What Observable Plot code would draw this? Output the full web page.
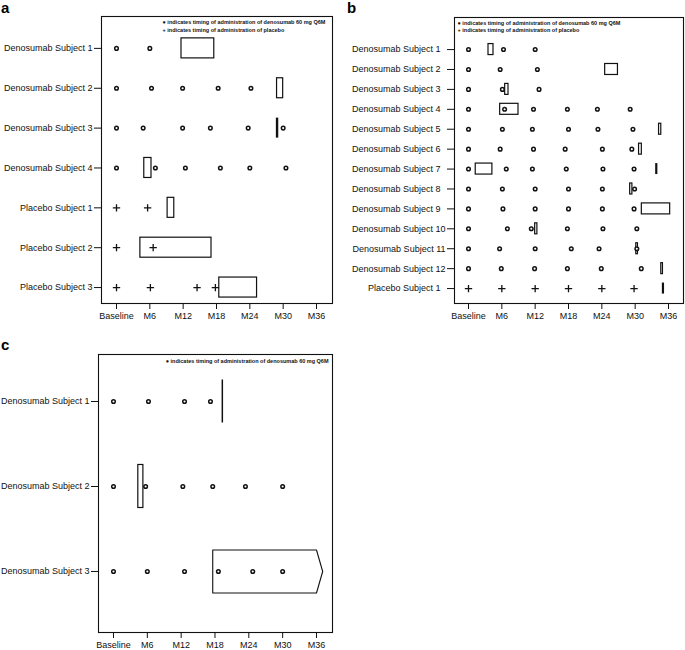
<!DOCTYPE html>
<html>
<head>
<meta charset="utf-8">
<script src="https://cdn.jsdelivr.net/npm/d3@7"></script>
<script src="https://cdn.jsdelivr.net/npm/@observablehq/plot@0.6"></script>
<style>
  html, body { margin: 0; padding: 0; background: #fff; }
  #wrap { position: relative; width: 685px; height: 650px; font-family: "Liberation Sans", Arial, sans-serif; }
  .pl { position: absolute; z-index: 1; }
  .letter { position: absolute; z-index: 5; font-size: 15px; font-weight: bold; line-height: 1; color: #000; }
</style>
</head>
<body>
<div id="wrap">
  <div class="pl" id="pa" style="left:0px;top:0px;"></div>
  <div class="pl" id="pb" style="left:340px;top:0px;"></div>
  <div class="pl" id="pc" style="left:0px;top:330px;"></div>
  <div class="letter" style="left:1px;top:0px;">a</div>
  <div class="letter" style="left:347px;top:0px;">b</div>
  <div class="letter" style="left:1px;top:337px;">c</div>
</div>
<script>
// ---- shared axis ----
const xTickMonths = [0, 6, 12, 18, 24, 30, 36];
const xTickLabels = ["Baseline", "M6", "M12", "M18", "M24", "M30", "M36"];
const legendDeno = "\u25CF indicates timing of administration of denosumab 60 mg Q6M";
const legendPlacebo = "+ indicates timing of administration of placebo";

// ---- panel a ----
const aSubjects = ["Denosumab Subject 1", "Denosumab Subject 2", "Denosumab Subject 3", "Denosumab Subject 4",
  "Placebo Subject 1", "Placebo Subject 2", "Placebo Subject 3"];
const aArm = ["Denosumab", "Denosumab", "Denosumab", "Denosumab", "Placebo", "Placebo", "Placebo"];
const aDoseMonths = [
  [0, 6],
  [0, 6.3, 11.9, 18.3, 24.2],
  [0, 4.8, 11.9, 16.9, 23.7, 30],
  [0, 7, 12.4, 18.7, 24, 30.5],
  [0, 5.6],
  [0, 6.6],
  [0, 6.1, 14.5, 17.8]
];
const aBoxStart = [11.7, 28.9, null, 5.0, 9.2, 4.3, 18.5];
const aBoxEnd   = [17.6, 30.0, null, 6.3, 10.4, 17.1, 25.3];
const aLineMonth = [null, null, 28.9, null, null, null, null];

// ---- panel b ----
const bSubjects = ["Denosumab Subject 1", "Denosumab Subject 2", "Denosumab Subject 3", "Denosumab Subject 4",
  "Denosumab Subject 5", "Denosumab Subject 6", "Denosumab Subject 7", "Denosumab Subject 8",
  "Denosumab Subject 9", "Denosumab Subject 10", "Denosumab Subject 11", "Denosumab Subject 12",
  "Placebo Subject 1"];
const bArm = ["Denosumab", "Denosumab", "Denosumab", "Denosumab", "Denosumab", "Denosumab", "Denosumab",
  "Denosumab", "Denosumab", "Denosumab", "Denosumab", "Denosumab", "Placebo"];
const bDoseMonths = [
  [0, 6.3, 12],
  [0, 5.7, 12.4],
  [0, 6.1, 12.7],
  [0, 6.5, 11.7, 17.8, 23.2, 29.1],
  [0, 6.1, 11.5, 18, 23.3, 29.6],
  [0, 5.7, 11.7, 17.4, 24.1, 29.4],
  [0, 6.8, 11.5, 17.6, 24.2, 29.8],
  [0, 6.1, 12, 18, 24.1, 29.9],
  [0, 6.2, 12, 18, 24.1, 29.8],
  [0, 7.0, 11.3, 17.8, 24.2, 30.3],
  [0, 5.6, 12, 18.5, 23.5, 30.3],
  [0, 5.9, 11.9, 17.8, 23.9, 31.1],
  [0, 6, 12, 18, 24, 29.8]
];
const bBoxStart = [3.6, 24.6, 6.6, 5.7, 34.3, 30.7, 1.3, 29.1, 31.2, 12.0, 30.2, 34.7, null];
const bBoxEnd   = [4.5, 26.9, 7.2, 9.0, 34.7, 31.2, 4.3, 29.5, 36.3, 12.4, 30.5, 35.0, null];
const bLineMonth = [null, null, null, null, null, null, 33.8, null, null, null, null, null, 35.0];

// ---- panel c ----
const cSubjects = ["Denosumab Subject 1", "Denosumab Subject 2", "Denosumab Subject 3"];
const cArm = ["Denosumab", "Denosumab", "Denosumab"];
const cDoseMonths = [
  [0, 6.2, 12.6, 17.2],
  [0, 5.7, 12.3, 17.6, 23.4, 30],
  [0, 6, 12.6, 18.6, 24.7, 30]
];
const cBoxStart = [null, 4.4, null];
const cBoxEnd   = [null, 5.3, null];
const cLineMonth = [19.3, null, null];
const cArrowStart = [null, null, 17.6];   // ongoing interval
const cArrowEnd   = [null, null, 36.0];
const cArrowTip   = [null, null, 37.1];

function panel(o) {
  const n = o.subjects.length;
  const dots = o.subjects.flatMap((s, i) => o.doses[i].map(m => ({row: i, month: m, arm: o.arm[i]})));
  const boxes = o.subjects.map((s, i) => o.boxStart[i] != null ? {row: i, x1: o.boxStart[i], x2: o.boxEnd[i]} : null).filter(Boolean);
  const lines = o.subjects.map((s, i) => o.lineMonth[i] != null ? {row: i, month: o.lineMonth[i]} : null).filter(Boolean);
  const h = o.halfH;
  const arrowPts = [];
  if (o.arrowStart) {
    o.subjects.forEach((s, i) => {
      if (o.arrowStart[i] == null) return;
      const a = o.arrowStart[i], e = o.arrowEnd[i], t = o.arrowTip[i];
      arrowPts.push(
        {id: i, x: a, y: i - h}, {id: i, x: e, y: i - h}, {id: i, x: t, y: i},
        {id: i, x: e, y: i + h}, {id: i, x: a, y: i + h}, {id: i, x: a, y: i - h});
    });
  }
  const marks = [
    Plot.frame({stroke: "#111", strokeWidth: 1.1}),
    Plot.rect(boxes, {x1: "x1", x2: "x2", y1: d => d.row - h, y2: d => d.row + h, fill: "none", stroke: "#111", strokeWidth: 1.2}),
    Plot.ruleX(lines, {x: "month", y1: d => d.row - h, y2: d => d.row + h, stroke: "#111", strokeWidth: o.lineWidth}),
    Plot.line(arrowPts, {x: "x", y: "y", z: "id", stroke: "#111", strokeWidth: 1.1}),
    Plot.dot(dots.filter(d => d.arm === "Denosumab"), {x: "month", y: "row", r: 1.8, stroke: "#111", strokeWidth: 1.5, fill: "white"}),
    Plot.dot(dots.filter(d => d.arm === "Placebo"), {x: "month", y: "row", symbol: "plus", r: 2.5, stroke: "#111", strokeWidth: 1.3}),
    Plot.axisX({ticks: xTickMonths, tickFormat: d => xTickLabels[xTickMonths.indexOf(d)], tickSize: 6, tickPadding: 3, fontSize: 9, stroke: "#111"}),
    Plot.axisY({ticks: d3.range(n), tickFormat: i => o.subjects[i] + (o.pad && o.subjects[i].match(/ \d$/) ? "\u00a0\u00a0" : ""), tickSize: 7, tickPadding: 2, fontSize: 9, stroke: "#111"}),
    Plot.text([o.legend.join("\n")], {frameAnchor: o.legendAnchor, textAnchor: o.legendAnchor === "top-right" ? "end" : "start",
      lineAnchor: "top", dx: o.legendDx, dy: o.legendDy, fontSize: 5.5, fontWeight: "bold", lineHeight: 1.35, fill: "#111"})
  ];
  return Plot.plot({
    width: o.width, height: o.height,
    marginLeft: o.m[0], marginRight: o.m[1], marginTop: o.m[2], marginBottom: o.m[3],
    x: {domain: o.xDomain, axis: null},
    y: {domain: o.yDomain, axis: null},
    style: {fontFamily: "'Liberation Sans', Arial, sans-serif", fontSize: "9px", color: "#111", background: "white", overflow: "visible"},
    marks
  });
}

document.getElementById("pa").appendChild(panel({
  subjects: aSubjects, arm: aArm, doses: aDoseMonths, boxStart: aBoxStart, boxEnd: aBoxEnd, lineMonth: aLineMonth,
  halfH: 0.251, lineWidth: 2.4,
  width: 340, height: 330, m: [101, 8, 16, 27], xDomain: [-2.7, 38.88], yDomain: [6.40, -0.80],
  legend: [legendDeno, legendPlacebo], legendAnchor: "top-left", legendDx: 61, legendDy: 2.5
}));
document.getElementById("pb").appendChild(panel({
  subjects: bSubjects, arm: bArm, doses: bDoseMonths, boxStart: bBoxStart, boxEnd: bBoxEnd, lineMonth: bLineMonth,
  halfH: 0.276, lineWidth: 2.2, pad: true,
  width: 345, height: 330, m: [114, 2, 17, 27], xDomain: [-2.52, 38.7], yDomain: [12.75, -1.61],
  legend: [legendDeno, legendPlacebo], legendAnchor: "top-left", legendDx: 3, legendDy: 2
}));
document.getElementById("pc").appendChild(panel({
  subjects: cSubjects, arm: cArm, doses: cDoseMonths, boxStart: cBoxStart, boxEnd: cBoxEnd, lineMonth: cLineMonth,
  arrowStart: cArrowStart, arrowEnd: cArrowEnd, arrowTip: cArrowTip,
  halfH: 0.253, lineWidth: 1.5,
  width: 340, height: 320, m: [98, 8, 24, 18], xDomain: [-2.66, 38.84], yDomain: [2.718, -0.553],
  legend: [legendDeno], legendAnchor: "top-right", legendDx: -4, legendDy: 3
}));
</script>
</body>
</html>
